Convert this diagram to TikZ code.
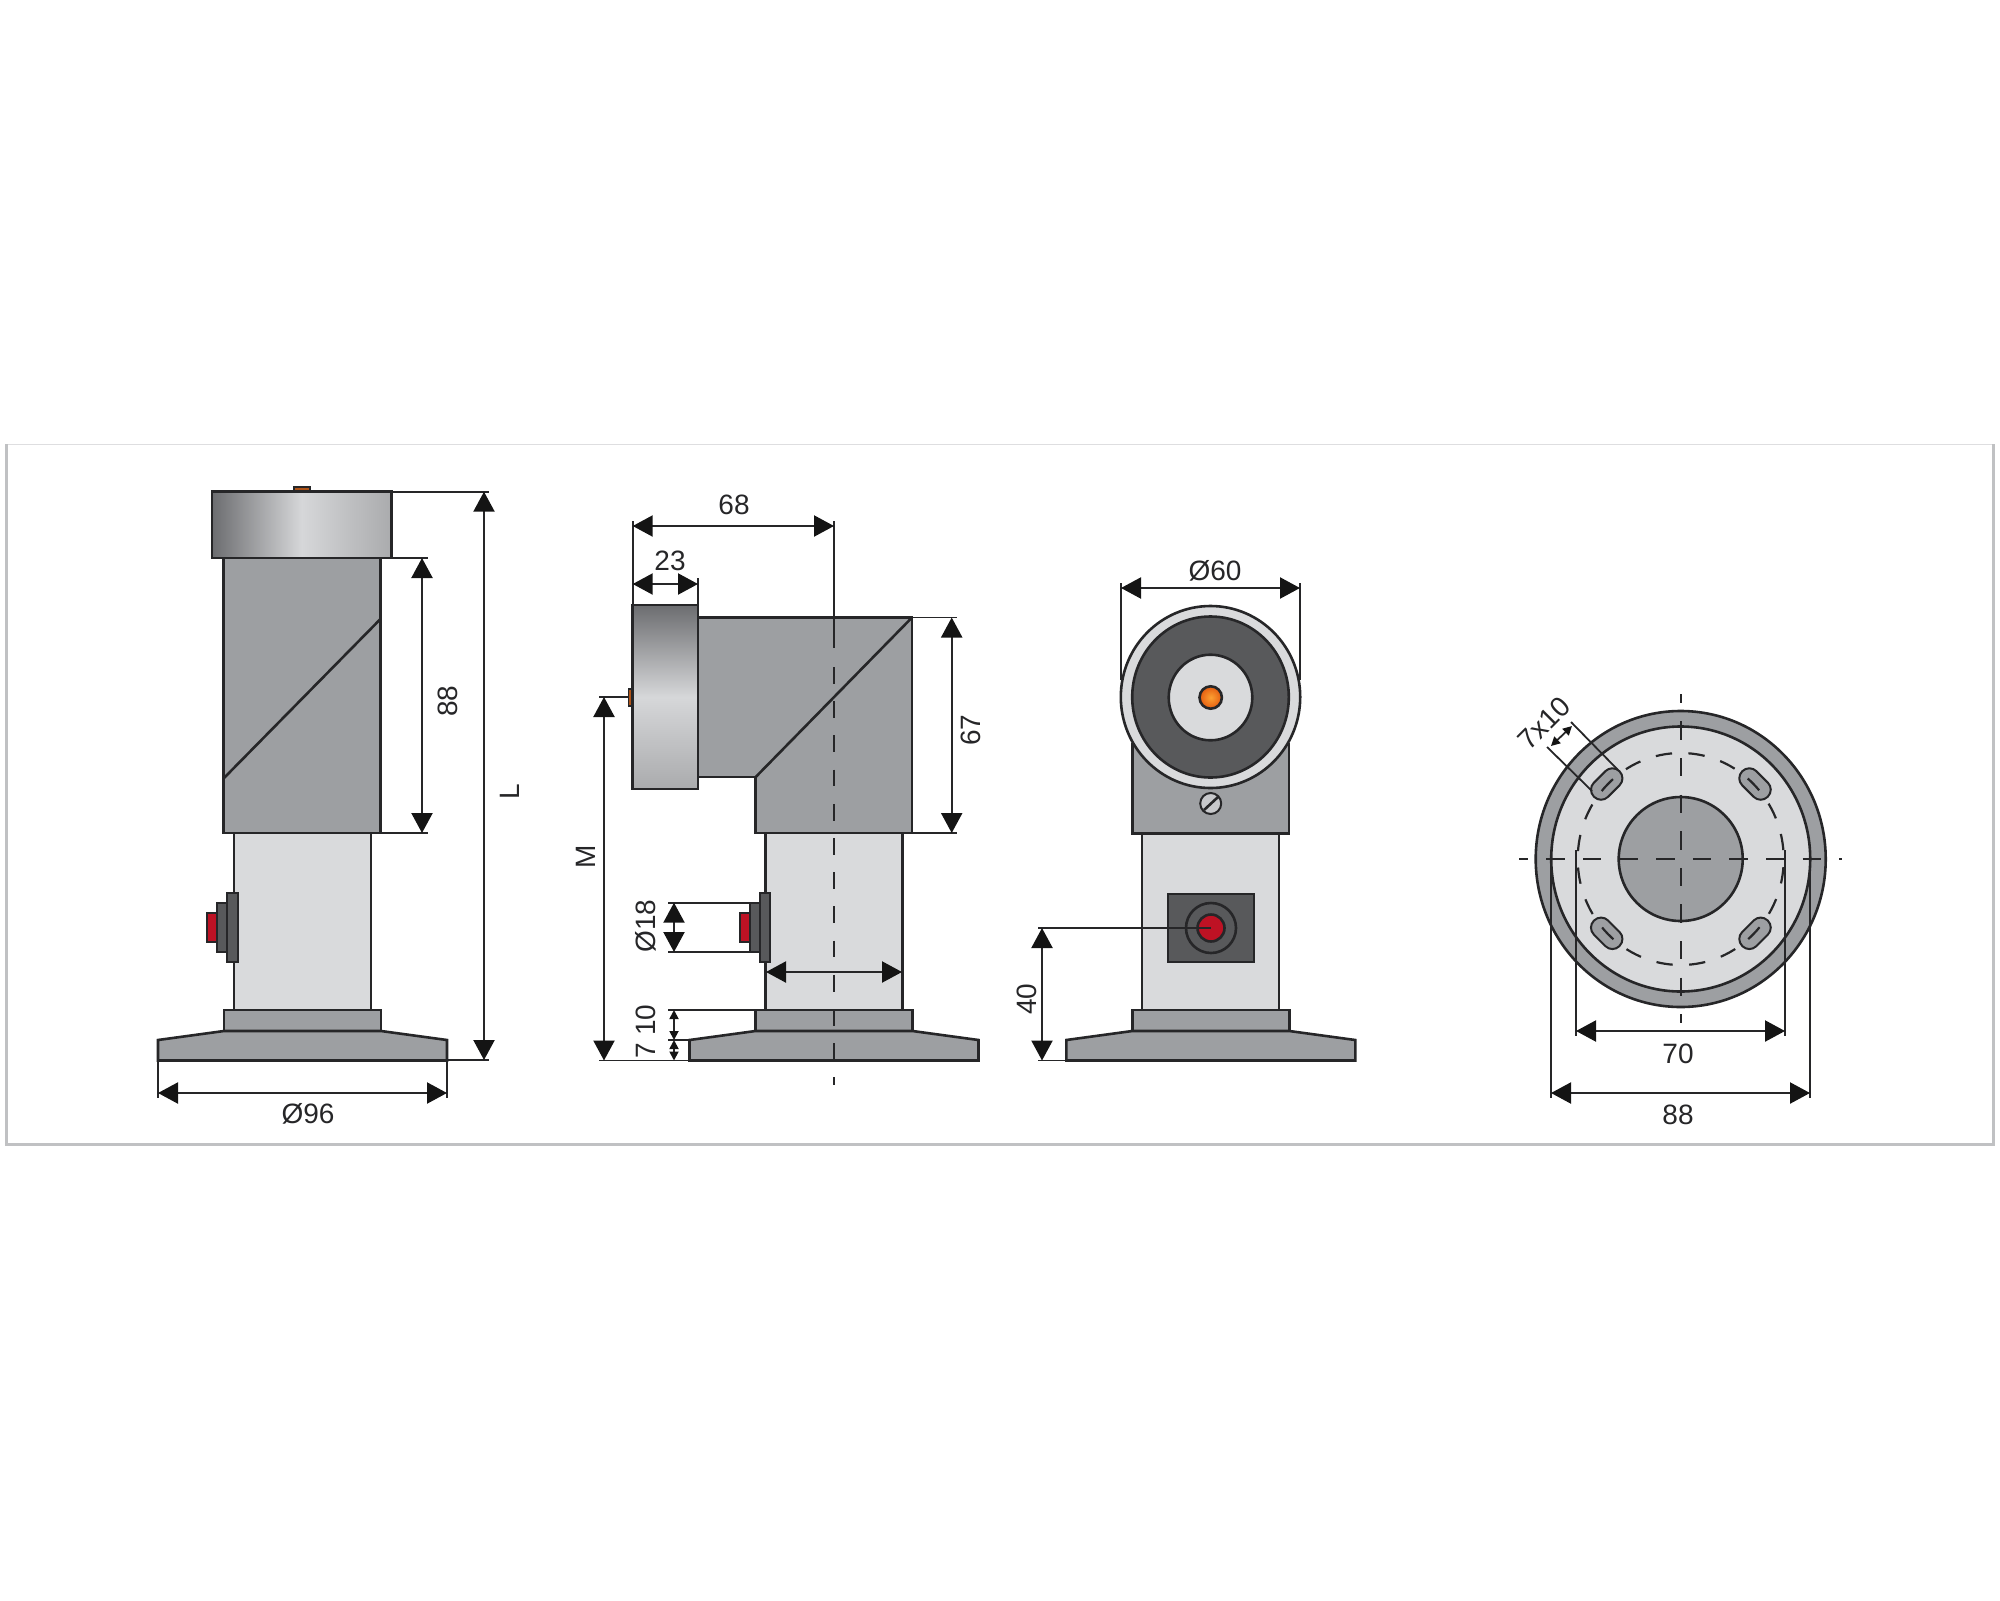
\documentclass[tikz,border=0pt]{standalone}
\usepackage{fontspec}
\usepackage{xcolor}
\setmainfont{Liberation Sans}
\usetikzlibrary{arrows.meta}
\definecolor{ink}{RGB}{38, 38, 40}
\definecolor{tipblack}{RGB}{20, 20, 20}
\definecolor{bodygray}{RGB}{157, 159, 162}
\definecolor{lightgray}{RGB}{217, 218, 220}
\definecolor{headlight}{RGB}{214, 215, 217}
\definecolor{headend}{RGB}{170, 171, 173}
\definecolor{darkgray}{RGB}{88, 89, 91}
\definecolor{headdark}{RGB}{108, 109, 112}
\definecolor{framegray}{RGB}{192, 193, 195}
\definecolor{frametop}{RGB}{222, 222, 224}
\definecolor{btnred}{RGB}{190, 18, 36}
\definecolor{pinbrown}{RGB}{176, 84, 24}
\definecolor{pinorange}{RGB}{228, 92, 16}
\definecolor{pinglow}{RGB}{252, 160, 50}
\tikzset{
  part/.style={draw=ink, line width=1.3pt},
  extline/.style={draw=ink, line width=0.9pt},
  dimline/.style={draw=ink, line width=1.1pt, {Triangle[length=10pt,width=10.5pt,color=tipblack]}-{Triangle[length=10pt,width=10.5pt,color=tipblack]}},
  smalldim/.style={draw=ink, line width=0.9pt, {Triangle[length=4.5pt,width=4.5pt,color=tipblack]}-{Triangle[length=4.5pt,width=4.5pt,color=tipblack]}},
  centre/.style={draw=ink, line width=1.1pt, dash pattern=on 9.2pt off 9.1pt, dash phase=4.6pt},
  axisdash/.style={draw=ink, line width=1.1pt, dash pattern=on 8.4pt off 8.7pt},
  label/.style={font=\fontsize{14}{16}\selectfont, text=ink, inner sep=0pt},
  slot/.style={part, fill=bodygray, line width=1pt, minimum width=18pt, minimum height=10pt, inner sep=0pt, rounded corners=4.9pt}
}
\begin{document}
\begin{tikzpicture}[x=0.5pt,y=-0.5pt]
\useasboundingbox (0,0) rectangle (2000,1600);
\draw[frametop, line width=0.8pt] (6.7,444.3) -- (1993.3,444.3);
\draw[framegray, line width=1.3pt] (6.7,444.3) -- (6.7,1144.3) -- (1993.3,1144.3) -- (1993.3,444.3);

% stand, collar and foot of the three side views
\foreach \cx in {302.5,834,1210.8} {
  \draw[part, fill=lightgray, line width=1.1pt] (\cx-68.5,833) rectangle (\cx+68.5,1010);
  \draw[part, fill=bodygray] (\cx-78.5,1010) rectangle (\cx+78.5,1031);
  \draw[part, fill=bodygray] (\cx-144.5,1060.5) -- (\cx-144.5,1040) -- (\cx-78.5,1031) -- (\cx+78.5,1031) -- (\cx+144.5,1040) -- (\cx+144.5,1060.5) -- cycle;
}

% button seen from the side
\foreach \bx in {232,764.5} {
  \draw[part, fill=btnred, line width=1pt] (\bx-25,913) rectangle (\bx-15,942);
  \draw[part, fill=darkgray, line width=1pt] (\bx-15,903) rectangle (\bx-5,952);
  \draw[part, fill=darkgray, line width=1pt] (\bx-5,893) rectangle (\bx+5.5,962);
}

% front view
\draw[part, fill=bodygray] (223.5,558) rectangle (380.5,833);
\draw[part] (224,778) -- (380.5,619);
\draw[part, fill=pinbrown, line width=1pt] (294,487) rectangle (310,492);
\draw[part, left color=headdark, right color=headend, middle color=headlight] (212,491.7) rectangle (391.7,558);

% side view
\draw[part, fill=bodygray] (698,617.5) -- (912,617.5) -- (912,833) -- (755.7,833) -- (755.7,777) -- (698,777) -- cycle;
\draw[part] (755.7,777) -- (912,617.5);
\draw[part, fill=pinbrown, line width=0.9pt] (628.5,689) rectangle (633,706);
\draw[part, top color=headdark, bottom color=headend, middle color=headlight] (632.7,605) rectangle (698,789);

% magnet view
\draw[part, fill=bodygray] (1132.3,744) rectangle (1289,833.3);
\draw[part, fill=lightgray] (1210.5,697) ellipse [x radius=89.7, y radius=91];
\draw[part, fill=darkgray] (1210.5,697) ellipse [x radius=78.3, y radius=80.5];
\draw[part, fill=lightgray] (1210.5,697.5) ellipse [x radius=41.8, y radius=42.8];
\draw[part, inner color=pinglow, outer color=pinorange] (1210.7,697.5) circle [radius=11.2];
\draw[part, fill=lightgray!70!bodygray, line width=1pt] (1210.7,803.5) circle [radius=10.5];
\draw[part] (1204,810) -- (1218,797);
\draw[part, fill=darkgray] (1168,894) rectangle (1254,962);
\draw[part, fill=darkgray] (1211,928) circle [radius=25];
\draw[part, fill=btnred] (1211,928) circle [radius=13.5];

% plate view
\draw[part, fill=bodygray] (1680.7,859) ellipse [x radius=145, y radius=148];
\draw[part, fill=lightgray] (1680.7,859) ellipse [x radius=129.5, y radius=132.5];
\draw[part, fill=bodygray] (1680.7,859) circle [radius=62];
\node[slot, rotate=45] (slotA) at (1606.7,784) {};
\node[slot, rotate=-45] (slotB) at (1755,784) {};
\node[slot, rotate=-45] (slotC) at (1606.7,933.3) {};
\node[slot, rotate=45] (slotD) at (1755,933.3) {};
\draw[centre, dash pattern=on 8.2pt off 8.2pt, dash phase=12.3pt] (1680.7,859) ellipse [x radius=103, y radius=106];
\draw[centre] (1519,859) -- (1842,859);
\draw[centre] (1680.7,694) -- (1680.7,1023);

% dimensions, front view
\coordinate (footL) at (158,1093);
\coordinate (footR) at (447,1093);
\draw[extline] (158,1060) -- (158,1098);
\draw[extline] (447,1060) -- (447,1098);
\draw[dimline] (footL) -- (footR);
\node[label] (dimA) at (308,1114) {Ø96};
\draw[extline] (381,558) -- (428,558);
\draw[extline] (381,833) -- (428,833);
\coordinate (bodyT) at (422,558);
\coordinate (bodyB) at (422,833);
\draw[dimline] (bodyT) -- (bodyB);
\node[label, rotate=90] (dimB) at (448,701) {88};
\draw[extline] (392,491.7) -- (489,491.7);
\draw[extline] (447,1060) -- (489,1060);
\coordinate (totalT) at (484,491.7);
\coordinate (totalB) at (484,1060);
\draw[dimline] (totalT) -- (totalB);
\node[label, rotate=90] (dimL) at (510,792) {L};

% dimensions, side view
\draw[extline] (632.7,521) -- (632.7,605);
\draw[extline] (834,521) -- (834,648);
\draw[extline] (698,578) -- (698,605);
\coordinate (headL) at (632.7,526);
\coordinate (axisT) at (834,526);
\draw[dimline] (headL) -- (axisT);
\node[label] (dimC) at (734,505) {68};
\coordinate (headA) at (632.7,584);
\coordinate (headB) at (698,584);
\draw[dimline] (headA) -- (headB);
\node[label] (dimD) at (670,561) {23};
\draw[extline] (912,617.5) -- (957,617.5);
\draw[extline] (912,833) -- (957,833);
\coordinate (armT) at (951.7,617.5);
\coordinate (armB) at (951.7,833);
\draw[dimline] (armT) -- (armB);
\node[label, rotate=90] (dimE) at (971,730) {67};
\draw[extline] (599,697) -- (628,697);
\draw[extline] (599,1060.5) -- (690,1060.5);
\coordinate (pinH) at (604,697);
\coordinate (baseH) at (604,1060.5);
\draw[dimline] (pinH) -- (baseH);
\node[label, rotate=90] (dimM) at (586,857) {M};
\draw[extline] (668,902.7) -- (750,902.7);
\draw[extline] (668,952) -- (750,952);
\coordinate (btnT) at (674,902.7);
\coordinate (btnB) at (674,952);
\draw[dimline] (btnT) -- (btnB);
\node[label, rotate=90] (dimF) at (646,926) {Ø18};
\coordinate (standL) at (766,972);
\coordinate (standR) at (902,972);
\draw[dimline] (standL) -- (standR);
\draw[extline] (668,1010) -- (756,1010);
\draw[extline] (668,1040) -- (690,1040);
\coordinate (colT) at (674,1010);
\coordinate (colM) at (674,1040);
\coordinate (colB) at (674,1060.5);
\draw[smalldim] (colT) -- (colM);
\draw[smalldim] (colM) -- (colB);
\node[label, rotate=90] (dimG) at (646,1020) {10};
\node[label, rotate=90] (dimH) at (646,1051) {7};
\draw[axisdash] (834,667) -- (834,1085);

% dimensions, magnet view
\draw[extline] (1121,583) -- (1121,680);
\draw[extline] (1300,583) -- (1300,680);
\coordinate (magL) at (1121,588);
\coordinate (magR) at (1300,588);
\draw[dimline] (magL) -- (magR);
\node[label] (dimI) at (1215,571) {Ø60};
\draw[extline] (1038,928) -- (1211,928);
\draw[extline] (1038,1060.5) -- (1066,1060.5);
\coordinate (redH) at (1042,928);
\coordinate (footH) at (1042,1060.5);
\draw[dimline] (redH) -- (footH);
\node[label, rotate=90] (dimJ) at (1027,999) {40};

% dimensions, plate view
\draw[extline] (1576,850) -- (1576,1036);
\draw[extline] (1785,850) -- (1785,1036);
\coordinate (holeL) at (1576,1031);
\coordinate (holeR) at (1785,1031);
\draw[dimline] (holeL) -- (holeR);
\node[label] (dimK) at (1678,1054) {70};
\draw[extline] (1551,858) -- (1551,1098);
\draw[extline] (1810,858) -- (1810,1098);
\coordinate (plateL) at (1551,1093);
\coordinate (plateR) at (1810,1093);
\draw[dimline] (plateL) -- (plateR);
\node[label] (dimN) at (1678,1115) {88};
\draw[extline] (1571,722) -- (1618,770);
\draw[extline] (1547,747) -- (1592,791);
\coordinate (slotP) at (1551,746);
\coordinate (slotQ) at (1572,726);
\draw[smalldim] (slotP) -- (slotQ);
\node[label, rotate=45] (dimO) at (1544,723) {7x10};
\end{tikzpicture}
\end{document}
